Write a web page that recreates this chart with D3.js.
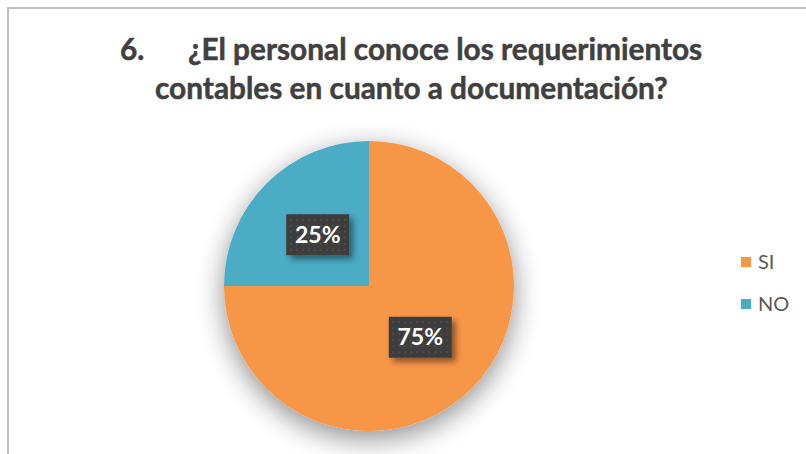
<!DOCTYPE html>
<html><head><meta charset="utf-8">
<script src="https://cdn.jsdelivr.net/npm/d3@7"></script>
<style>body{margin:0;background:#fff}svg{display:block}</style>
</head><body><svg id="c" width="806" height="454"></svg>
<script>
const categories = ["SI", "NO"];
const values = [75, 25];
const labels = ["75%", "25%"];
const colors = ["#F79646", "#4BACC6"];
const titleNumber = "6.";
const titleLines = ["¿El personal conoce los requerimientos", "contables en cuanto a documentación?"];

const svg = d3.select("#c");
const defs = svg.append("defs");
const f = defs.append("filter").attr("id","pieShadow").attr("x","-50%").attr("y","-50%").attr("width","200%").attr("height","200%");
f.append("feGaussianBlur").attr("in","SourceAlpha").attr("stdDeviation",14);
f.append("feOffset").attr("dx",0).attr("dy",8).attr("result","b");
f.append("feComponentTransfer").append("feFuncA").attr("type","linear").attr("slope",0.45);
const fm = f.append("feMerge"); fm.append("feMergeNode"); fm.append("feMergeNode").attr("in","SourceGraphic");

const f2 = defs.append("filter").attr("id","boxShadow").attr("x","-50%").attr("y","-50%").attr("width","200%").attr("height","200%");
f2.append("feGaussianBlur").attr("in","SourceAlpha").attr("stdDeviation",3);
f2.append("feOffset").attr("dx",4).attr("dy",4);
f2.append("feComponentTransfer").append("feFuncA").attr("type","linear").attr("slope",0.45);
const fm2 = f2.append("feMerge"); fm2.append("feMergeNode"); fm2.append("feMergeNode").attr("in","SourceGraphic");

const pat = defs.append("pattern").attr("id","dots").attr("width",6).attr("height",6).attr("patternUnits","userSpaceOnUse");
pat.append("rect").attr("width",6).attr("height",6).attr("fill","#3d3d3d");
pat.append("rect").attr("x",2).attr("y",2).attr("width",2).attr("height",2).attr("fill","#4d4d4d");

// border
svg.append("rect").attr("x",8).attr("y",8).attr("width",820).attr("height",470)
  .attr("fill","#fff").attr("stroke","#c0c0c0").attr("stroke-width",2);

// title
const font = "Lato, 'Open Sans', sans-serif";
const tg = svg.append("g").attr("fill","#404040").attr("font-family",font).attr("font-weight","bold")
  .attr("stroke","#404040").attr("stroke-width",0.5);
const l2 = tg.append("text").attr("x",155).attr("y",99).attr("font-size",26).text(titleLines[1]);
let w2 = l2.node().getComputedTextLength();
const fs = 26 * 513 / w2;
l2.attr("font-size",fs);
const n = tg.append("text").attr("x",120).attr("y",60).attr("font-size",fs).text(titleNumber);
const l1 = tg.append("text").attr("x",188).attr("y",60).attr("font-size",fs).text(titleLines[0]);
const w1 = l1.node().getComputedTextLength();
if (w1 > 520) { l1.attr("textLength",516).attr("lengthAdjust","spacingAndGlyphs"); }

// pie
const cx = 369, cy = 286, r = 145;
const pie = d3.pie().sort(null).value(d => d)(values);
const arc = d3.arc().innerRadius(0).outerRadius(r);
const g = svg.append("g").attr("transform",`translate(${cx},${cy})`);
g.append("g").attr("filter","url(#pieShadow)").selectAll("path").data(pie).join("path")
  .attr("d",arc).attr("fill",(d,i)=>colors[i]);

const lg = g.selectAll("g.lab").data(pie).join("g").attr("class","lab")
  .attr("transform",d=>`translate(${arc.centroid(d)})`);
lg.append("rect").attr("x",-31.5).attr("y",-20.5).attr("width",63).attr("height",41)
  .attr("fill","url(#dots)").attr("filter","url(#boxShadow)");
lg.append("text").attr("text-anchor","middle").attr("y",8).attr("fill","#fff")
  .attr("font-family",font).attr("font-weight","bold").attr("font-size",23)
  .text((d,i)=>labels[i]);

// legend
const leg = svg.append("g").attr("transform","translate(741,257)");
const li = leg.selectAll("g").data(categories).join("g").attr("transform",(d,i)=>`translate(0,${i*42})`);
li.append("rect").attr("width",10).attr("height",10).attr("fill",(d,i)=>colors[i]);
li.append("text").attr("x",17).attr("y",12).attr("fill","#595959")
  .attr("font-family",font).attr("font-size",20).text(d=>d);
</script></body></html>
